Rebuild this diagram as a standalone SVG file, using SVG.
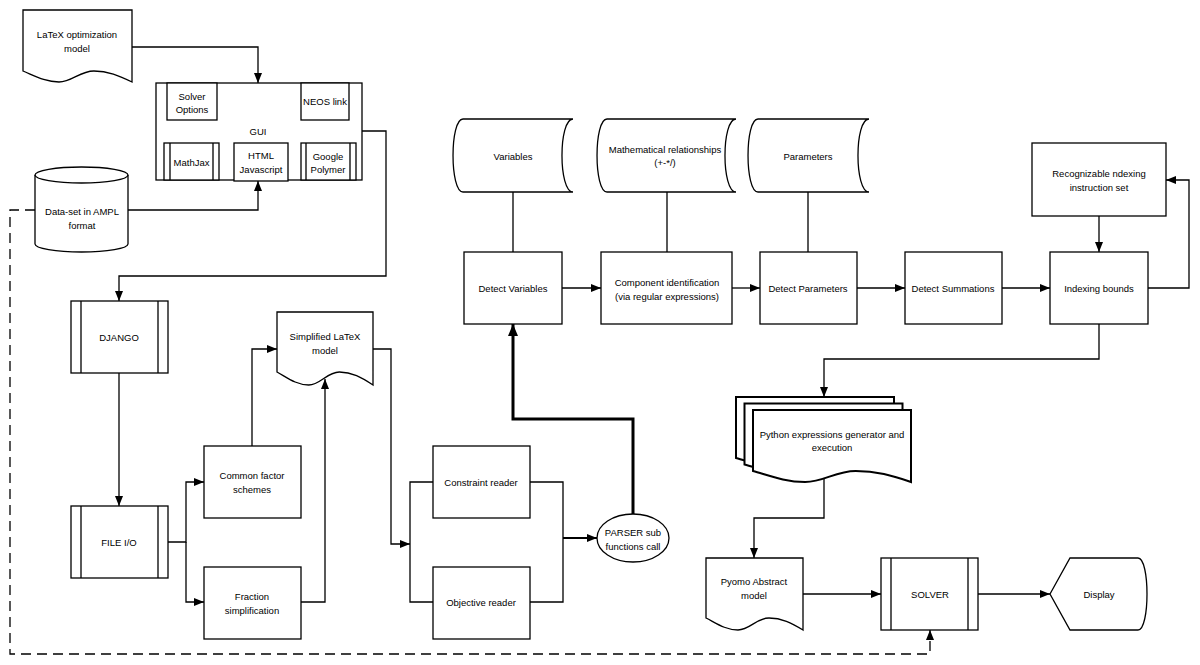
<svg xmlns="http://www.w3.org/2000/svg" width="1200" height="665" viewBox="0 0 1200 665">
<defs>
<marker id="ah" viewBox="0 0 10 8" refX="10" refY="4" markerWidth="10" markerHeight="8" markerUnits="userSpaceOnUse" orient="auto"><path d="M0,0 L10,4 L0,8 Z" fill="#000"/></marker>
<marker id="ahb" viewBox="0 0 12 10" refX="12" refY="5" markerWidth="12" markerHeight="10" markerUnits="userSpaceOnUse" orient="auto"><path d="M0,0 L12,5 L0,10 Z" fill="#000"/></marker>
</defs>
<style>
.s{fill:#fff;stroke:#000;stroke-width:1.3}
.th{fill:#fff;stroke:#000;stroke-width:2}
.b{fill:none;stroke:#000;stroke-width:1.3}
.c{fill:none;stroke:#000;stroke-width:1.3}
.a{marker-end:url(#ah)}
.k{fill:none;stroke:#000;stroke-width:3;marker-end:url(#ahb)}
.d{fill:none;stroke:#000;stroke-width:1.3;stroke-dasharray:10 6}
text{font-family:"Liberation Sans",Arial,sans-serif;font-size:9.5px;fill:#000;text-anchor:middle;dominant-baseline:central}
</style>
<rect width="1200" height="665" fill="#fff"/>

<g id="connectors">
<path class="c a" d="M132,47 H258 V83"/>
<path class="c a" d="M128,210 H258 V181"/>
<path class="c a" d="M362,131 H386 V276 H119 V301"/>
<path class="c a" d="M119,373 V506"/>
<path class="c a" d="M168,542 H186 V482 H204"/>
<path class="c a" d="M186,542 V602 H204"/>
<path class="c a" d="M252,446 V349 H277"/>
<path class="c a" d="M301,602 H325 V379"/>
<path class="c a" d="M373,349 H391 V544 H410"/>
<path class="c" d="M433,482 H410 V602 H433"/>
<path class="c" d="M530,482 H563 V602 H530"/>
<path class="c a" style="stroke-width:2" d="M563,538 H597"/>
<path class="k" d="M633,514 V419 H513 V324"/>
<path class="c" d="M513,192 V252 M667,192 V252 M808,192 V252"/>
<path class="c a" d="M562,288 H601"/>
<path class="c a" d="M732,288 H760"/>
<path class="c a" d="M857,288 H905"/>
<path class="c a" d="M1002,288 H1050"/>
<path class="c a" d="M1099,216 V252"/>
<path class="c a" d="M1148,288 H1189 V180 H1166"/>
<path class="c a" d="M1099,324 V359 H824 V397"/>
<path class="c a" d="M824,478 V518 H754 V558"/>
<path class="c a" d="M803,594 H881"/>
<path class="c a" d="M978,594 H1050"/>
<path class="d a" d="M35,210 H10 V654 H930 V630"/>
</g>

<g id="latex-model">
<path class="s" d="M23,10 H132 V82 C118.9,75.4 108,71 93.9,71 C79.7,71 72,82 59,82 C44.8,82 33.9,75.4 23,71 Z"/>
<text x="77" y="34">LaTeX optimization</text>
<text x="77" y="48">model</text>
</g>

<g id="gui">
<rect class="s" x="156" y="83" width="206" height="97"/>
<text x="258" y="131">GUI</text>
</g>
<g id="solver-options">
<rect class="s" x="167" y="83" width="50" height="37"/>
<text x="192" y="96">Solver</text>
<text x="192" y="109">Options</text>
</g>
<g id="neos-link">
<rect class="s" x="301" y="83" width="48" height="37"/>
<text x="325" y="101">NEOS link</text>
</g>
<g id="mathjax">
<rect class="s" x="164" y="143" width="55" height="37"/>
<path class="b" d="M170,143 V180 M213,143 V180"/>
<text x="191.5" y="162">MathJax</text>
</g>
<g id="html-js">
<rect class="s" x="234" y="143" width="54" height="38"/>
<text x="261" y="155">HTML</text>
<text x="261" y="169">Javascript</text>
</g>
<g id="google-polymer">
<rect class="s" x="301" y="143" width="55" height="37"/>
<path class="b" d="M306,143 V180 M350,143 V180"/>
<text x="328" y="156">Google</text>
<text x="328" y="169">Polymer</text>
</g>

<g id="dataset">
<path class="s" d="M35,175 A46.5,8 0 0 1 128,175 V244 A46.5,8 0 0 1 35,244 Z"/>
<path class="b" d="M35,175 A46.5,8 0 0 0 128,175"/>
<text x="82" y="211">Data-set in AMPL</text>
<text x="82" y="225">format</text>
</g>

<g id="django">
<rect class="s" x="71" y="301" width="97" height="72"/>
<path class="b" d="M81,301 V373 M158,301 V373"/>
<text x="119" y="337">DJANGO</text>
</g>
<g id="file-io">
<rect class="s" x="71" y="506" width="97" height="72"/>
<path class="b" d="M81,506 V578 M158,506 V578"/>
<text x="119" y="542">FILE I/O</text>
</g>
<g id="common-factor">
<rect class="s" x="204" y="446" width="97" height="72"/>
<text x="252" y="475">Common factor</text>
<text x="252" y="489">schemes</text>
</g>
<g id="fraction">
<rect class="s" x="204" y="567" width="97" height="72"/>
<text x="252" y="596">Fraction</text>
<text x="252" y="610">simplification</text>
</g>
<g id="simplified-latex">
<path class="s" d="M277,312 H373 V385 C361.5,377.2 351.9,372 339.4,372 C326.9,372 320.2,385 308.7,385 C296.2,385 286.6,377.2 277,372 Z"/>
<text x="325" y="336">Simplified LaTeX</text>
<text x="325" y="350">model</text>
</g>
<g id="constraint-reader">
<rect class="s" x="433" y="446" width="97" height="72"/>
<text x="481" y="482">Constraint reader</text>
</g>
<g id="objective-reader">
<rect class="s" x="433" y="567" width="97" height="72"/>
<text x="481" y="602">Objective reader</text>
</g>
<g id="parser">
<ellipse class="s" cx="633" cy="538" rx="36" ry="24"/>
<text x="633" y="532">PARSER sub</text>
<text x="633" y="546">functions call</text>
</g>

<g id="variables">
<path class="s" d="M463,119 H573 C558.3,119 558.3,192 573,192 H463 C449.7,192 449.7,119 463,119 Z"/>
<text x="513" y="156">Variables</text>
</g>
<g id="math-rel">
<path class="s" d="M607,119 H736 C721.3,119 721.3,192 736,192 H607 C593.7,192 593.7,119 607,119 Z"/>
<text x="665" y="149">Mathematical relationships</text>
<text x="665" y="162">(+-*/)</text>
</g>
<g id="parameters">
<path class="s" d="M758,119 H869 C854.3,119 854.3,192 869,192 H758 C744.7,192 744.7,119 758,119 Z"/>
<text x="808" y="156">Parameters</text>
</g>
<g id="detect-variables">
<rect class="s" x="464" y="252" width="98" height="72"/>
<text x="513" y="288">Detect Variables</text>
</g>
<g id="component-id">
<rect class="s" x="601" y="252" width="131" height="72"/>
<text x="667" y="282">Component identification</text>
<text x="667" y="296">(via regular expressions)</text>
</g>
<g id="detect-parameters">
<rect class="s" x="760" y="252" width="97" height="72"/>
<text x="808" y="288">Detect Parameters</text>
</g>
<g id="detect-summations">
<rect class="s" x="905" y="252" width="97" height="72"/>
<text x="953" y="288">Detect Summations</text>
</g>
<g id="indexing-bounds">
<rect class="s" x="1050" y="252" width="98" height="72"/>
<text x="1099" y="288">Indexing bounds</text>
</g>
<g id="recognizable">
<rect class="s" x="1032" y="143" width="134" height="73"/>
<text x="1099" y="173">Recognizable ndexing</text>
<text x="1099" y="187">instruction set</text>
</g>

<g id="python-gen">
<path class="th" d="M736,397 H894 V469 C875,462.4 859.2,458 838.7,458 C818.2,458 807.1,469 788.1,469 C767.6,469 751.8,462.4 736,458 Z"/>
<path class="th" d="M744.5,403.5 H902.5 V475.5 C883.5,468.9 867.7,464.5 847.2,464.5 C826.7,464.5 815.6,475.5 796.6,475.5 C776.1,475.5 760.3,468.9 744.5,464.5 Z"/>
<path class="th" d="M753,410 H911 V482 C892,475.4 876.2,471 855.7,471 C835.2,471 824.1,482 805.1,482 C784.6,482 768.8,475.4 753,471 Z"/>
<text x="832" y="434">Python expressions generator and</text>
<text x="832" y="447">execution</text>
</g>
<g id="pyomo">
<path class="s" d="M706,558 H803 V630 C791.4,622.8 781.7,618 769,618 C756.4,618 749.7,630 738,630 C725.4,630 715.7,622.8 706,618 Z"/>
<text x="754" y="581">Pyomo Abstract</text>
<text x="754" y="595">model</text>
</g>
<g id="solver">
<rect class="s" x="881" y="558" width="97" height="72"/>
<path class="b" d="M891,558 V630 M968,558 V630"/>
<text x="930" y="594">SOLVER</text>
</g>
<g id="display">
<path class="s" d="M1050,594 L1070,558 H1138 C1150,558 1150,630 1138,630 H1070 Z"/>
<text x="1099" y="594">Display</text>
</g>
</svg>
